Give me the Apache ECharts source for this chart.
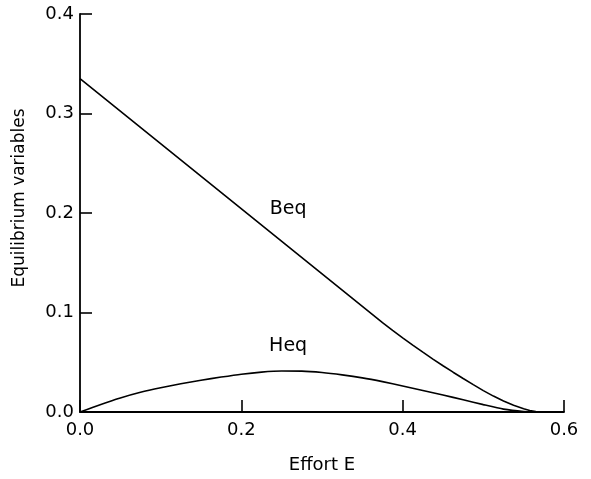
<!DOCTYPE html>
<html>
<head>
<meta charset="utf-8">
<script src="https://cdn.jsdelivr.net/npm/echarts@6/dist/echarts.min.js"></script>
<style>html,body{margin:0;padding:0;background:#fff;}#c{width:591px;height:479px;}</style>
</head>
<body>
<div id="c"></div>
<script>
var beqEffort = [0, 0.375, 0.3875, 0.4, 0.4125, 0.425, 0.4375, 0.45, 0.4625, 0.475, 0.4875, 0.5, 0.5125, 0.525, 0.5375, 0.55, 0.5575, 0.565, 0.57];
var beq = [0.335, 0.0898, 0.082, 0.0745, 0.0672, 0.0601, 0.0532, 0.0465, 0.04, 0.0337, 0.0275, 0.0215, 0.016, 0.011, 0.0067, 0.0033, 0.0015, 0.0004, 0];
var heqEffort = [0, 0.025, 0.05, 0.075, 0.1, 0.125, 0.15, 0.175, 0.2, 0.225, 0.25, 0.275, 0.3, 0.325, 0.35, 0.375, 0.4, 0.425, 0.45, 0.475, 0.5, 0.525, 0.55, 0.565];
var heq = [0, 0.0074, 0.0141, 0.0198, 0.0244, 0.0284, 0.0319, 0.0351, 0.038, 0.0401, 0.0412, 0.0411, 0.0397, 0.0373, 0.0343, 0.0305, 0.0262, 0.0217, 0.0171, 0.0123, 0.0074, 0.0029, 0.0005, 0];
var xTicks = ['0.0', '0.2', '0.4', '0.6'];
var yTicks = ['0.0', '0.1', '0.2', '0.3', '0.4'];
var curveLabels = ['Beq', 'Heq'];
var labelPos = [[0.258, 0.204], [0.258, 0.066]];

function pairs(xs, ys) { return xs.map(function (x, i) { return [x, ys[i]]; }); }
var font = 'DejaVu Sans';
var chart = echarts.init(document.getElementById('c'), null, {renderer: 'canvas'});
function lineSeries(name, xs, ys, idx, sm) {
  return {
    name: name, type: 'line', data: pairs(xs, ys), showSymbol: false, smooth: sm,
    lineStyle: {color: '#000', width: 1.6}, silent: true,
    markPoint: {
      symbol: 'circle', symbolSize: 0, silent: true,
      data: [{coord: labelPos[idx], value: curveLabels[idx]}],
      label: {show: true, position: 'inside', formatter: curveLabels[idx], color: '#000', fontFamily: font, fontSize: 19}
    }
  };
}
chart.setOption({
  animation: false,
  grid: {left: 80, right: 27, top: 14, bottom: 65},
  xAxis: {
    type: 'value', min: 0, max: 0.6, interval: 0.2,
    name: 'Effort E', nameLocation: 'middle', nameGap: 44,
    nameTextStyle: {color: '#000', fontFamily: font, fontSize: 18},
    axisLine: {lineStyle: {color: '#000', width: 1.8}},
    axisTick: {inside: true, length: 12, lineStyle: {color: '#000', width: 1.6}},
    axisLabel: {color: '#000', fontFamily: font, fontSize: 18, margin: 9, formatter: function (v) { return xTicks[Math.round(v / 0.2)]; }},
    splitLine: {show: false}
  },
  yAxis: {
    type: 'value', min: 0, max: 0.4, interval: 0.1,
    name: 'Equilibrium variables', nameLocation: 'middle', nameGap: 52,
    nameTextStyle: {color: '#000', fontFamily: font, fontSize: 17, padding: [0, 0, 0, 30]},
    axisLine: {lineStyle: {color: '#000', width: 1.8}},
    axisTick: {inside: true, length: 12, lineStyle: {color: '#000', width: 1.6}},
    axisLabel: {color: '#000', fontFamily: font, fontSize: 18, margin: 6, formatter: function (v) { return yTicks[Math.round(v / 0.1)]; }},
    splitLine: {show: false}
  },
  series: [lineSeries('Beq', beqEffort, beq, 0, false), lineSeries('Heq', heqEffort, heq, 1, 0.2)]
});
</script>
</body>
</html>
